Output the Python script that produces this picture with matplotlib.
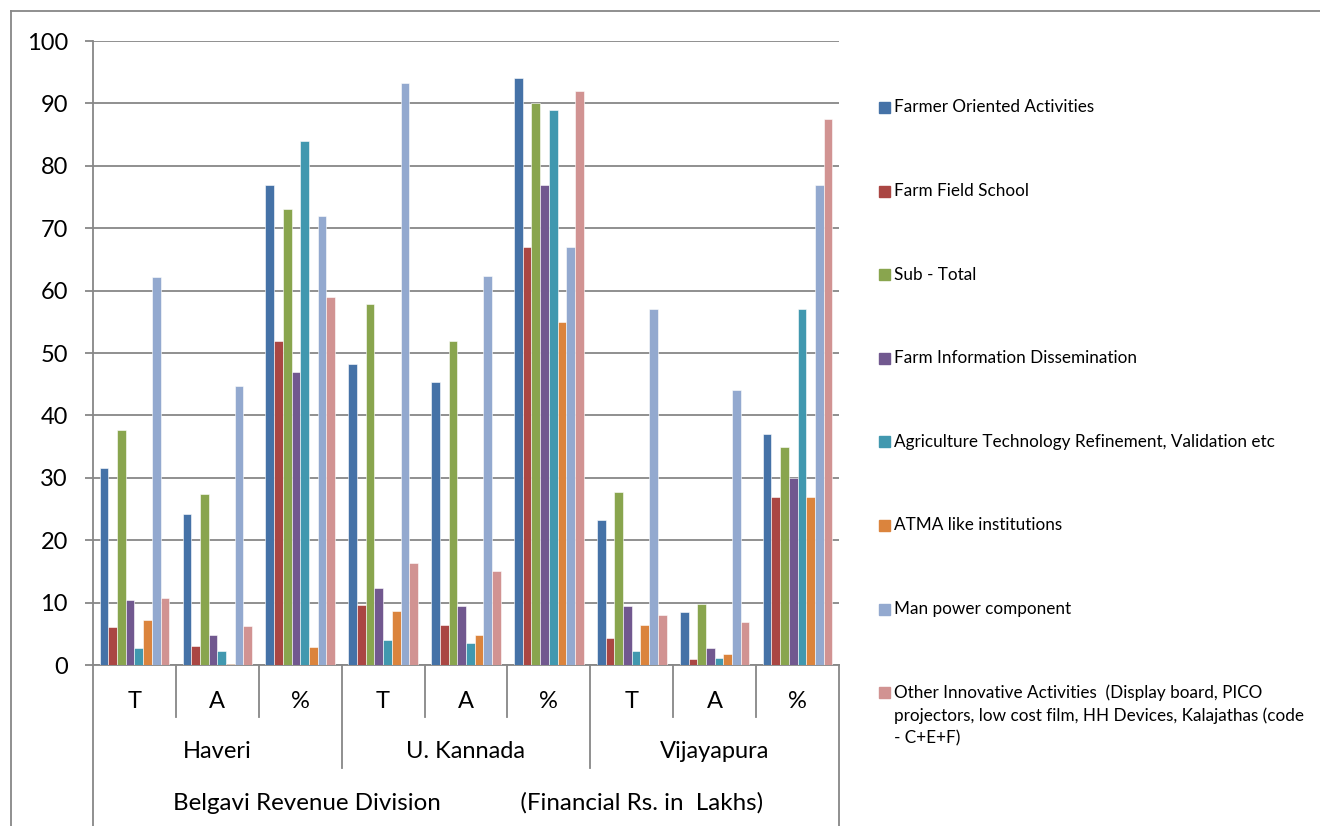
import matplotlib
matplotlib.use("Agg")
import matplotlib.pyplot as plt
import numpy as np
from matplotlib.patches import Rectangle
from matplotlib.lines import Line2D
import matplotlib.transforms as mtransforms

plt.rcParams['font.family'] = ['Lato', 'DejaVu Sans']

# category levels
sub_labels = ["T", "A", "%", "T", "A", "%", "T", "A", "%"]
districts = ["Haveri", "U. Kannada", "Vijayapura"]
division_label = "Belgavi Revenue Division             (Financial Rs. in  Lakhs)"

series_names = [
    "Farmer Oriented Activities",
    "Farm Field School",
    "Sub - Total",
    "Farm Information Dissemination",
    "Agriculture Technology Refinement, Validation etc",
    "ATMA like institutions",
    "Man power component",
    "Other Innovative Activities  (Display board, PICO\nprojectors, low cost film, HH Devices, Kalajathas (code\n- C+E+F)",
]
colors = ["#4572A7", "#AA4643", "#89A54E", "#71588F",
          "#4198AF", "#DB843D", "#93A9CF", "#D19392"]

# values per series, in category order (Haveri T/A/%, U. Kannada T/A/%, Vijayapura T/A/%)
farmer_oriented = [31.5, 24.2, 77, 48.2, 45.3, 94, 23.3, 8.5, 37]
farm_field_school = [6.1, 3.1, 52, 9.6, 6.4, 67, 4.3, 1.0, 27]
sub_total = [37.7, 27.4, 73, 57.9, 51.9, 90, 27.7, 9.7, 35]
farm_info = [10.4, 4.8, 47, 12.4, 9.5, 77, 9.4, 2.7, 30]
agri_tech = [2.8, 2.3, 84, 4.0, 3.6, 89, 2.2, 1.2, 57]
atma = [7.2, 0.2, 2.9, 8.7, 4.8, 55, 6.4, 1.7, 27]
man_power = [62.2, 44.7, 72, 93.3, 62.4, 67, 57, 44, 77]
other_innov = [10.7, 6.3, 59, 16.3, 15.1, 92, 8.0, 6.9, 87.5]

series = [farmer_oriented, farm_field_school, sub_total, farm_info,
          agri_tech, atma, man_power, other_innov]

W, H = 1320, 826
fig = plt.figure(figsize=(W / 100, H / 100), dpi=100)
ax = fig.add_axes([93 / W, 1 - 665 / H, (839 - 93) / W, (665 - 41) / H])

grey = "#878787"
n = len(series)
bw = 0.84 / n
x = np.arange(len(sub_labels)) + 0.5
for i, (vals, c) in enumerate(zip(series, colors)):
    ax.bar(x + (i - (n - 1) / 2) * bw, vals, width=bw, color=c,
           edgecolor="white", linewidth=0.4, zorder=3)

ax.set_xlim(0, len(sub_labels))
ax.set_ylim(0, 100)
ax.set_yticks(range(0, 101, 10))
ax.yaxis.grid(True, color=grey, linewidth=1.3, zorder=0)
ax.set_xticks([])
ax.tick_params(axis="y", length=6, width=1.3, color=grey, pad=12,
               labelsize=17)
for s in ["top", "right"]:
    ax.spines[s].set_visible(False)
for s in ["left", "bottom"]:
    ax.spines[s].set_color(grey)
    ax.spines[s].set_linewidth(1.3)

# multi-level category axis
tr = mtransforms.blended_transform_factory(ax.transData, ax.transAxes)
ah = 665 - 41
for k in range(1, 9):
    depth = 103 if k % 3 == 0 else 52
    ax.add_line(Line2D([k, k], [0, -depth / ah], transform=tr, color=grey,
                       linewidth=1.3, clip_on=False))
for k in (0, 9):
    ax.add_line(Line2D([k, k], [0, -161 / ah], transform=tr, color=grey,
                       linewidth=1.3, clip_on=False))
for xi, lab in zip(x, sub_labels):
    ax.text(xi, -37 / ah, lab, transform=tr, ha="center", va="center",
            fontsize=17)
for j, d in enumerate(districts):
    ax.text(3 * j + 1.5, -87 / ah, d, transform=tr, ha="center",
            va="center", fontsize=17)
ax.text(4.52, -138 / ah, division_label, transform=tr, ha="center",
        va="center", fontsize=17.4)

# legend drawn on the figure
for i, (name, c) in enumerate(zip(series_names, colors)):
    yc = 107.5 + i * 83.6
    fig.add_artist(Rectangle((879 / W, 1 - (yc + 5.5) / H), 11 / W, 11 / H,
                             transform=fig.transFigure, color=c))
    fig.text(894 / W, 1 - (yc - 8) / H, name, ha="left", va="top",
             fontsize=12.3, linespacing=1.45)

# outer frame
fig.add_artist(Line2D([11 / W, 11 / W], [0, 1 - 11 / H], color=grey,
                      linewidth=1.3, transform=fig.transFigure))
fig.add_artist(Line2D([11 / W, 1], [1 - 11 / H, 1 - 11 / H], color=grey,
                      linewidth=1.3, transform=fig.transFigure))

fig.savefig("out.png", dpi=100)
